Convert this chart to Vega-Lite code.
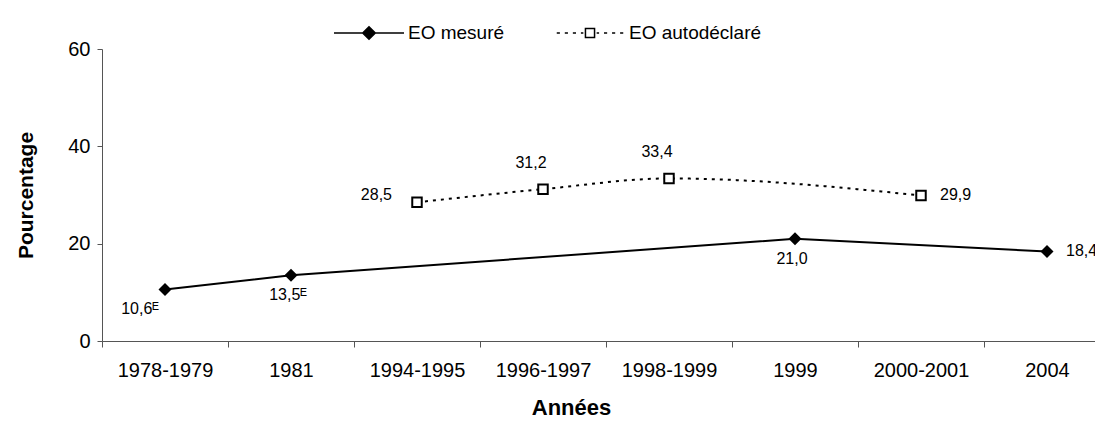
{
  "$schema": "https://vega.github.io/schema/vega-lite/v6.json",
  "width": 1008,
  "height": 292,
  "autosize": "none",
  "padding": {"left": 102, "top": 49, "right": 0, "bottom": 85},
  "background": "white",
  "config": {
    "font": "Liberation Sans",
    "view": {"stroke": null},
    "axis": {"grid": false, "domainColor": "#555555", "tickColor": "#555555", "labelColor": "black", "titleColor": "black", "labelFont": "Liberation Sans", "titleFont": "Liberation Sans"}
  },
  "data": {
    "values": [
      {"year": "1978-1979", "series": "EO mesuré", "value": 10.6, "label": "10,6ᴱ"},
      {"year": "1981", "series": "EO mesuré", "value": 13.5, "label": "13,5ᴱ"},
      {"year": "1999", "series": "EO mesuré", "value": 21.0, "label": "21,0"},
      {"year": "2004", "series": "EO mesuré", "value": 18.4, "label": "18,4"},
      {"year": "1994-1995", "series": "EO autodéclaré", "value": 28.5, "label": "28,5"},
      {"year": "1996-1997", "series": "EO autodéclaré", "value": 31.2, "label": "31,2"},
      {"year": "1998-1999", "series": "EO autodéclaré", "value": 33.4, "label": "33,4"},
      {"year": "2000-2001", "series": "EO autodéclaré", "value": 29.9, "label": "29,9"}
    ]
  },
  "encoding": {
    "x": {
      "field": "year", "type": "nominal",
      "scale": {"type": "band", "paddingInner": 0, "paddingOuter": 0, "domain": ["1978-1979", "1981", "1994-1995", "1996-1997", "1998-1999", "1999", "2000-2001", "2004"]},
      "axis": {"title": "Années", "labelAngle": 0, "tickBand": "extent", "tickSize": 6, "labelPadding": 13, "labelFontSize": 20, "titleFontSize": 22, "titleFontWeight": "bold", "titleX": 469, "titleY": 66, "titleBaseline": "middle", "titleAlign": "center", "titleAnchor": null}
    },
    "y": {
      "field": "value", "type": "quantitative",
      "scale": {"domain": [0, 60], "nice": false},
      "axis": {"title": "Pourcentage", "values": [0, 20, 40, 60], "tickSize": 5, "labelPadding": 7, "labelFontSize": 20, "titleFontSize": 21, "titleFontWeight": "bold", "titleX": -76, "titleY": 146, "titleAngle": -90, "titleAlign": "center", "titleBaseline": "middle", "titleAnchor": null}
    }
  },
  "layer": [
    {
      "transform": [{"filter": "datum.value < 0"}],
      "mark": {"type": "point", "strokeWidth": 1.5, "opacity": 1},
      "encoding": {
        "shape": {
          "field": "series", "type": "nominal",
          "scale": {"domain": ["EO mesuré", "EO autodéclaré"], "range": [
            "M-1,0L1,0M-0.18,0L0,-0.18L0.18,0L0,0.18Z",
            "M-0.95,0L-0.86,0M-0.72,0L-0.63,0M-0.49,0L-0.4,0M-0.26,0L-0.19,0M0.19,0L0.26,0M0.4,0L0.49,0M0.63,0L0.72,0M0.86,0L0.95,0M-0.13,-0.13L0.13,-0.13L0.13,0.13L-0.13,0.13Z"
          ]},
          "legend": {"title": null, "orient": "none", "legendX": 231, "legendY": -52, "direction": "horizontal", "symbolSize": 4900, "symbolStrokeColor": "black", "symbolStrokeWidth": 1.5, "labelFontSize": 19, "labelFont": "Liberation Sans", "labelColor": "black", "padding": 0, "columnPadding": 48, "labelOffset": 3}
        },
        "fill": {
          "field": "series", "type": "nominal",
          "scale": {"domain": ["EO mesuré", "EO autodéclaré"], "range": ["black", "white"]},
          "legend": {"title": null}
        },
        "stroke": {
          "field": "series", "type": "nominal",
          "scale": {"domain": ["EO mesuré", "EO autodéclaré"], "range": ["black", "black"]},
          "legend": {"title": null}
        }
      }
    },
    {
      "transform": [{"filter": "datum.series == 'EO mesuré'"}],
      "mark": {"type": "line", "color": "black", "strokeWidth": 2}
    },
    {
      "transform": [{"filter": "datum.series == 'EO autodéclaré'"}],
      "mark": {"type": "line", "color": "black", "strokeWidth": 2, "strokeDash": [3, 5], "interpolate": "monotone"}
    },
    {
      "transform": [{"filter": "datum.series == 'EO mesuré'"}],
      "mark": {"type": "point", "shape": "diamond", "filled": true, "color": "black", "size": 169, "opacity": 1}
    },
    {
      "transform": [{"filter": "datum.series == 'EO autodéclaré'"}],
      "mark": {"type": "point", "shape": "square", "filled": true, "fill": "white", "stroke": "black", "strokeWidth": 2, "size": 90, "opacity": 1}
    },
    {
      "transform": [{"filter": "datum.year == '1978-1979'"}],
      "mark": {"type": "text", "fontSize": 16, "color": "black", "align": "center", "baseline": "middle", "dx": -25, "dy": 20},
      "encoding": {"text": {"field": "label"}}
    },
    {
      "transform": [{"filter": "datum.year == '1981' || datum.year == '1999'"}],
      "mark": {"type": "text", "fontSize": 16, "color": "black", "align": "center", "baseline": "middle", "dx": -3, "dy": 20},
      "encoding": {"text": {"field": "label"}}
    },
    {
      "transform": [{"filter": "datum.year == '2004' || datum.year == '2000-2001'"}],
      "mark": {"type": "text", "fontSize": 16, "color": "black", "align": "left", "baseline": "middle", "dx": 19, "dy": 0},
      "encoding": {"text": {"field": "label"}}
    },
    {
      "transform": [{"filter": "datum.year == '1994-1995'"}],
      "mark": {"type": "text", "fontSize": 16, "color": "black", "align": "right", "baseline": "middle", "dx": -25, "dy": -7},
      "encoding": {"text": {"field": "label"}}
    },
    {
      "transform": [{"filter": "datum.year == '1996-1997' || datum.year == '1998-1999'"}],
      "mark": {"type": "text", "fontSize": 16, "color": "black", "align": "center", "baseline": "middle", "dx": -12, "dy": -26},
      "encoding": {"text": {"field": "label"}}
    }
  ]
}
